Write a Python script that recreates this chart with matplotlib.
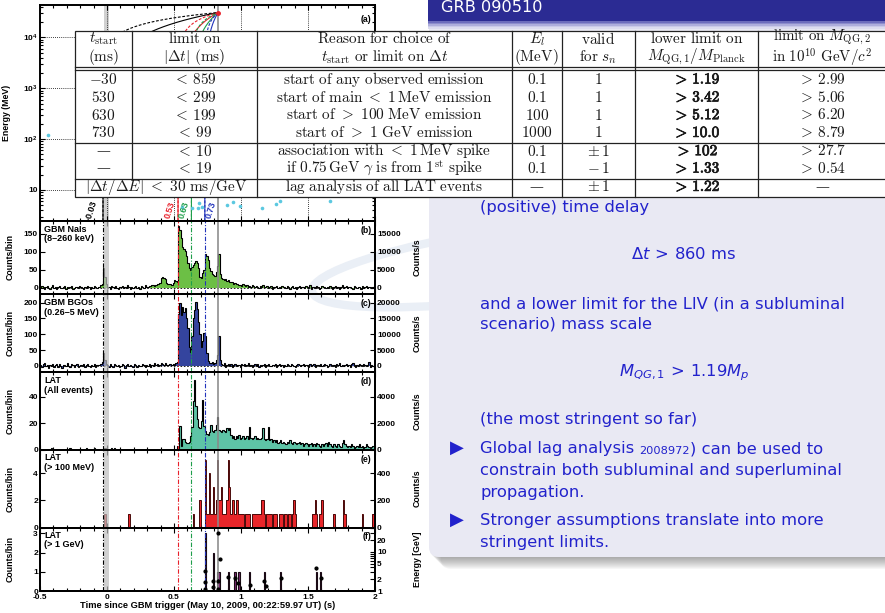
import matplotlib
matplotlib.use('Agg')
import matplotlib.pyplot as plt
import matplotlib.patheffects as pe
import numpy as np
from matplotlib.patches import Rectangle, FancyBboxPatch, Arc
from matplotlib.ticker import MultipleLocator, LogLocator, NullFormatter

# ---------------------------------------------------------------- data
# light curves in 10 ms bins starting at t = -0.50 s (250 bins, 25 per row)
nai_counts = [
    3, 6, 2, -2, 4, 5, 1, -3, 2, 7, 0, 3, -4, 2, 5, 1, -1, 4, 6, -2, 3, 0, 2, 5, -3,
    1, 4, 2, -1, 6, 3, 0, -2, 4, 1, 5, 2, -3, 3, 0, 6, 2, -1, 4, 3, 8, 12, 55, 30, 12,
    4, 2, -2, 5, 3, 0, 6, 1, -3, 4, 2, 5, -1, 3, 0, 7, 2, -2, 4, 1, 3, 6, 0, 2, -3,
    5, 4, 1, 8, 3, 2, 6, 5, 9, 7, 6, 8, 10, 12, 15, 28, 30, 28, 25, 15, 12, 10, 12, 8, 14,
    22, 20, 18, 172, 160, 138, 115, 108, 103, 90, 70, 55, 50, 58, 65, 70, 75, 68, 55, 30, 28, 42, 50, 95, 88,
    78, 55, 48, 40, 35, 32, 45, 60, 95, 40, 28, 25, 22, 24, 20, 22, 18, 16, 18, 12, 14, 10, 12, 8, 9,
    6, 10, 7, 5, 8, 4, 6, 3, 7, 5, 2, 6, 4, 1, 5, 3, 7, 2, 4, 6, 0, 3, 5, -2, 4,
    2, 6, 1, 3, -1, 5, 2, 4, 0, 6, 3, -3, 2, 5, 1, 4, -2, 3, 6, 0, 2, 4, -1, 5, 3,
    1, 7, -2, 2, 4, 0, 5, 3, -3, 1, 6, 2, 4, -1, 3, 0, 5, 2, -4, 3, 6, 1, 2, -2, 4,
    7, 0, 3, 5, -1, 2, 4, 1, -3, 6, 2, 0, 4, 3, -2, 5, 1, 3, 6, -1, 2, 4, 0, 3, 5,
]
bgo_counts = [
    2, -4, 5, 8, -1, 3, -6, 4, 0, 7, -3, 2, 5, -2, 6, 1, -5, 3, 4, -1, 8, 0, -3, 5, 2,
    -2, 4, 6, -4, 1, 3, -1, 5, -3, 2, 7, 0, -2, 4, 1, 6, -4, 3, 2, 2, 5, 14, 42, 20, 6,
    3, -2, 5, 1, -4, 6, 2, -1, 4, -3, 0, 5, 3, -5, 2, 7, -1, 4, 0, -3, 6, 2, -2, 3, 1,
    -1, 5, 2, -3, 4, 0, 6, -2, 3, 1, 8, 2, 5, -1, 4, 9, 6, 3, 10, 4, 2, 7, 5, 3, 6,
    4, 8, 12, 165, 200, 160, 185, 170, 182, 150, 120, 60, 45, 95, 150, 175, 202, 180, 140, 100, 60, 80, 105, 95, 40,
    15, 10, 8, 12, 5, 10, 18, 35, 95, 20, 5, 3, 8, -2, 4, 6, 1, 5, -3, 2, 7, 0, 4, 3, -2,
    5, 2, 6, -1, 3, 8, 0, 4, -4, 2, 5, 1, 6, -2, 3, 0, 4, 7, -3, 2, 5, 1, -1, 4, 3,
    6, -2, 2, 5, 0, 3, -4, 4, 1, 7, 2, -1, 5, 3, 0, -3, 4, 6, 2, -1, 3, 5, 0, 2, 4,
    -2, 6, 1, 3, 5, -3, 2, 4, 0, 7, -1, 3, 5, 2, -4, 1, 6, 3, 0, 4, -2, 5, 2, 8, 1,
    3, -1, 4, 6, 0, 2, -3, 5, 10, 3, -2, 4, 1, 6, 2, -1, 5, 3, 0, 4, 12, -2, 3, 1, 5,
]
lat_all = [
    0, 0, 0, 0, 0, 0, 0, 0, 1, 0, 0, 0, 0, 0, 0, 0, 0, 0, 0, 0, 0, 0, 1, 0, 0,
    0, 0, 0, 0, 0, 0, 0, 0, 0, 1, 0, 0, 0, 0, 0, 1, 0, 0, 0, 0, 0, 0, 0, 1, 0,
    0, 0, 0, 1, 0, 1, 0, 0, 0, 0, 0, 0, 0, 0, 0, 0, 0, 0, 0, 0, 0, 0, 0, 0, 0,
    0, 0, 0, 0, 0, 0, 0, 0, 0, 0, 0, 0, 0, 0, 0, 0, 0, 0, 0, 0, 0, 0, 0, 0, 0,
    0, 0, 3, 1, 18, 3, 8, 8, 6, 5, 5, 6, 10, 17, 37, 53, 33, 23, 17, 16, 22, 38, 18, 14, 12,
    11, 13, 19, 14, 13, 15, 19, 25, 15, 14, 13, 15, 14, 13, 16, 15, 16, 11, 9, 10, 8, 10, 9, 11, 8,
    9, 10, 8, 9, 10, 8, 17, 9, 8, 9, 10, 8, 9, 8, 8, 9, 16, 8, 7, 8, 17, 7, 8, 6, 7,
    6, 7, 5, 6, 7, 5, 6, 5, 4, 6, 5, 7, 5, 4, 6, 5, 4, 5, 6, 4, 5, 3, 4, 5, 4,
    3, 4, 5, 3, 4, 3, 5, 4, 3, 2, 4, 3, 4, 5, 3, 6, 4, 3, 2, 4, 3, 2, 4, 3, 2,
    5, 7, 4, 3, 2, 3, 2, 4, 3, 1, 2, 3, 2, 4, 2, 3, 1, 2, 4, 3, 2, 1, 2, 3, 2,
]
lat_100mev = [
    0, 0, 0, 0, 0, 0, 0, 0, 0, 0, 0, 0, 0, 0, 0, 0, 0, 0, 0, 0, 0, 0, 0, 0, 0,
    0, 0, 0, 0, 0, 0, 0, 0, 0, 0, 0, 0, 0, 0, 0, 0, 0, 0, 0, 0, 0, 0, 0, 1, 0,
    0, 0, 0, 0, 0, 0, 0, 0, 0, 0, 0, 0, 0, 0, 0, 0, 1, 0, 0, 0, 0, 0, 0, 0, 0,
    0, 0, 0, 0, 0, 0, 0, 0, 0, 0, 0, 0, 0, 0, 0, 0, 0, 0, 0, 0, 0, 0, 0, 0, 0,
    0, 0, 0, 0, 0, 0, 0, 0, 0, 0, 0, 0, 0, 0, 1, 0, 0, 0, 0, 2, 0, 0, 0, 5, 1,
    1, 4, 1, 1, 3, 1, 2, 5, 2, 2, 3, 1, 1, 1, 2, 5, 3, 1, 2, 2, 1, 2, 2, 1, 1,
    1, 1, 0, 1, 1, 1, 1, 0, 1, 1, 1, 1, 1, 1, 1, 2, 2, 1, 0, 1, 1, 1, 1, 0, 1,
    1, 1, 0, 1, 1, 1, 0, 1, 1, 0, 1, 1, 0, 1, 2, 1, 0, 0, 0, 0, 0, 0, 0, 0, 0,
    0, 0, 0, 1, 1, 2, 1, 0, 1, 1, 2, 0, 0, 0, 0, 0, 0, 0, 0, 1, 0, 0, 0, 0, 0,
    0, 2, 1, 0, 0, 0, 0, 0, 0, 0, 0, 0, 0, 0, 0, 1, 0, 0, 0, 0, 0, 0, 0, 1, 0,
]
lat_1gev = [
    0, 0, 0, 0, 0, 0, 0, 0, 0, 0, 0, 0, 0, 0, 0, 0, 0, 0, 0, 0, 0, 0, 0, 0, 0,
    0, 0, 0, 0, 0, 0, 0, 0, 0, 0, 0, 0, 0, 0, 0, 0, 0, 0, 0, 0, 0, 0, 0, 0, 0,
    0, 0, 0, 0, 0, 0, 0, 0, 0, 0, 0, 0, 0, 0, 0, 0, 0, 0, 0, 0, 0, 0, 0, 0, 0,
    0, 0, 0, 0, 0, 0, 0, 0, 0, 0, 0, 0, 0, 0, 0, 0, 0, 0, 0, 0, 0, 0, 0, 0, 0,
    0, 0, 0, 0, 0, 0, 0, 0, 0, 0, 0, 0, 0, 0, 0, 0, 0, 0, 0, 0, 0, 0, 0, 3, 0,
    0, 0, 0, 0, 2, 0, 0, 1, 1, 0, 0, 0, 0, 0, 0, 1, 0, 0, 0, 0, 1, 0, 0, 1, 0,
    0, 0, 0, 0, 0, 0, 1, 0, 0, 0, 0, 0, 0, 0, 0, 0, 0, 1, 0, 0, 0, 0, 0, 0, 0,
    0, 0, 0, 0, 1, 0, 0, 0, 0, 0, 0, 0, 0, 0, 0, 0, 0, 0, 0, 0, 0, 0, 0, 0, 0,
    0, 0, 0, 0, 0, 0, 1, 0, 0, 1, 0, 0, 0, 0, 0, 0, 0, 0, 0, 0, 0, 0, 0, 0, 0,
    0, 0, 0, 0, 0, 0, 0, 0, 0, 0, 0, 0, 0, 0, 0, 0, 0, 0, 0, 0, 0, 0, 0, 0, 0,
]

# >1 GeV photons (panel f, right axis)
gev_time = [0.731, 0.731, 0.731, 0.793, 0.793, 0.829, 0.843, 0.826, 0.826,
            0.905, 0.955, 0.980, 1.067, 1.174, 1.184, 1.299, 1.560, 1.597]
gev_energy = [3.3, 1.7, 1.15, 1.75, 1.3, 31.0, 6.5, 1.85, 1.1,
              2.25, 2.1, 1.6, 1.4, 1.85, 1.35, 2.1, 3.8, 2.1]

# photons visible in panel (a), energy in MeV
a_time = [-0.44, 0.560, 0.634, 0.679, 0.687, 0.709, 0.896, 0.940, 0.993, 1.157, 1.261, 1.291, 1.664]
a_energy = [121, 4.6, 4.4, 4.4, 5.5, 4.6, 5.1, 5.8, 4.8, 4.4, 5.3, 6.1, 6.1]

# start times used for the dispersion curves
t_start = [-0.03, 0.53, 0.63, 0.73]
t_start_labels = ['-0.03', '0.53', '0.63', '0.73']
t_start_colors = ['black', '#e8202a', '#1f9e4a', '#2233bb']
t_max, e_max = 0.829, 31000.0

# table
table_header = [
    [r'$t_{\mathrm{start}}$', r'$\mathrm{(ms)}$'],
    [r'$\mathrm{limit\ on}$', r'$|\Delta t|\ \mathrm{(ms)}$'],
    [r'$\mathrm{Reason\ for\ choice\ of}$', r'$t_{\mathrm{start}}\ \mathrm{or\ limit\ on}\ \Delta t$'],
    [r'$E_l$', r'$\mathrm{(MeV)}$'],
    [r'$\mathrm{valid}$', r'$\mathrm{for}\ s_n$'],
    [r'$\mathrm{lower\ limit\ on}$', r'$M_{\mathrm{QG},1}/M_{\mathrm{Planck}}$'],
    [r'$\mathrm{limit\ on}\ M_{\mathrm{QG},2}$', r'$\mathrm{in}\ 10^{10}\ \mathrm{GeV}/c^2$'],
]
col_tstart = [r'$-30$', r'$530$', r'$630$', r'$730$', '—', '—']
col_dt = [r'$<\,859$', r'$<\,299$', r'$<\,199$', r'$<\,99$', r'$<\,10$', r'$<\,19$']
col_reason = [
    r'$\mathrm{start\ of\ any\ observed\ emission}$',
    r'$\mathrm{start\ of\ main}\ <\ 1\,\mathrm{MeV\ emission}$',
    r'$\mathrm{start\ of}\ >\ 100\ \mathrm{MeV\ emission}$',
    r'$\mathrm{start\ of}\ >\ 1\ \mathrm{GeV\ emission}$',
    r'$\mathrm{association\ with}\ <\ 1\,\mathrm{MeV\ spike}$',
    r'$\mathrm{if}\ 0.75\,\mathrm{GeV}\ \gamma\ \mathrm{is\ from}\ 1^{\mathrm{st}}\ \mathrm{spike}$',
    r'$\mathrm{lag\ analysis\ of\ all\ LAT\ events}$',
]
col_el = [r'$0.1$', r'$0.1$', r'$100$', r'$1000$', r'$0.1$', r'$0.1$', '—']
col_sn = [r'$1$', r'$1$', r'$1$', r'$1$', r'$\pm\,1$', r'$-\,1$', r'$\pm\,1$']
col_mqg1 = ['1.19', '3.42', '5.12', '10.0', '102', '1.33', '1.22']
col_mqg2 = [r'$>\,2.99$', r'$>\,5.06$', r'$>\,6.20$', r'$>\,8.79$', r'$>\,27.7$', r'$>\,0.54$', '—']
lag_row = r'$|\Delta t/\Delta E|\ <\ 30\ \mathrm{ms/GeV}$'

# ---------------------------------------------------------------- style
W, H = 885, 613
plt.rcParams['font.family'] = ['Liberation Sans', 'DejaVu Sans']
plt.rcParams['axes.unicode_minus'] = False
plt.rcParams['mathtext.fontset'] = 'custom'
plt.rcParams['mathtext.rm'] = 'Liberation Sans:bold'
plt.rcParams['mathtext.it'] = 'Liberation Sans:bold:italic'
plt.rcParams['mathtext.bf'] = 'Liberation Sans:bold'

NAI_C, BGO_C, LAT_C, HE_C, GEV_C = '#6cbf45', '#34449e', '#5ec4a6', '#e8262a', '#7b2a72'
SLIDE_BLUE = '#2222cc'
TICK_FS, LABEL_FS = 6.0, 6.3
B = 'bold'

t_edges = np.linspace(-0.5, 2.0, 251)


def px_box(x0, y0, x1, y1):
    return [x0 / W, 1 - y1 / H, (x1 - x0) / W, (y1 - y0) / H]


fig = plt.figure(figsize=(W / 100, H / 100), dpi=100)

# ---------------------------------------------------------------- slide background
bg = fig.add_axes([0, 0, 1, 1], zorder=0)
bg.set_xlim(0, W)
bg.set_ylim(H, 0)
bg.axis('off')
# faint logo swooshes
bg.add_patch(Arc((520, 262), 420, 70, angle=-8, theta1=90, theta2=260, color='#eaeff6', lw=6, zorder=0.2))
bg.add_patch(Arc((420, 640), 330, 560, angle=0, theta1=100, theta2=165, color='#edf1f7', lw=8, zorder=0.2))

for off in range(1, 13):
    bg.add_patch(FancyBboxPatch((429 + off, 10 + off), 480, 547, boxstyle='round,pad=0,rounding_size=10',
                                fc='#444444', ec='none', alpha=0.045, zorder=0.8))
bg.add_patch(FancyBboxPatch((429, 10), 480, 547, boxstyle='round,pad=0,rounding_size=10',
                            fc='#e9e9f3', ec='none', zorder=1))
bg.add_patch(Rectangle((428, 0), 460, 21, fc='#2b2b93', ec='none', zorder=1.2))
for k, c in enumerate(['#6c6cbc', '#8c8ccc', '#aeaedc', '#cacae8', '#dcdcef']):
    bg.add_patch(Rectangle((428, 21 + 1.5 * k), 460, 1.5, fc=c, ec='none', zorder=1.2))
bg.text(441, 12.3, 'GRB 090510', color='white', fontsize=11.6, family='DejaVu Sans', va='baseline', zorder=2)

txt = dict(color=SLIDE_BLUE, fontsize=11.8, family='DejaVu Sans', va='baseline', zorder=2)
bg.text(480, 211.7, '(positive) time delay', **txt)
bg.text(684, 259.3, r'$\Delta t\,>\,860\ \mathrm{ms}$', ha='center', math_fontfamily='dejavusans', **txt)
bg.text(480, 308.3, 'and a lower limit for the LIV (in a subluminal', **txt)
bg.text(480, 328.3, 'scenario) mass scale', **txt)
bg.text(684, 376, r'$M_{QG,1}\,>\,1.19M_p$', ha='center', math_fontfamily='dejavusans', **txt)
bg.text(480, 424.3, '(the most stringent so far)', **txt)
for yb in [453.3, 525]:
    bg.text(450, yb - 0.5, '▶', color=SLIDE_BLUE, fontsize=13, family='DejaVu Sans', va='baseline', zorder=2)
t1 = bg.text(480, 453.3, 'Global lag analysis ', **txt)
t2 = bg.annotate('2008972', xy=(1, 0), xycoords=t1, va='bottom', color=SLIDE_BLUE, fontsize=8.2,
                 family='DejaVu Sans', zorder=2)
bg.annotate(') can be used to', xy=(1, 0), xycoords=t2, va='bottom', color=SLIDE_BLUE, fontsize=11.8,
            family='DejaVu Sans', zorder=2)
bg.text(480, 475, 'constrain both subluminal and superluminal', **txt)
bg.text(480, 496.7, 'propagation.', **txt)
bg.text(480, 525, 'Stronger assumptions translate into more', **txt)
bg.text(480, 546.7, 'stringent limits.', **txt)

# ---------------------------------------------------------------- light-curve panels
ax_a = fig.add_axes(px_box(40, 5, 375, 221), zorder=2)
ax_b = fig.add_axes(px_box(40, 221, 375, 294), zorder=2)
ax_c = fig.add_axes(px_box(40, 294, 375, 372), zorder=2)
ax_d = fig.add_axes(px_box(40, 372, 375, 449.5), zorder=2)
ax_e = fig.add_axes(px_box(40, 449.5, 375, 527.5), zorder=2)
ax_f = fig.add_axes(px_box(40, 527.5, 375, 591), zorder=2)
all_axes = [ax_a, ax_b, ax_c, ax_d, ax_e, ax_f]


def style(ax, right=True):
    ax.set_facecolor('none')
    ax.set_xlim(-0.5, 2.0)
    ax.xaxis.set_major_locator(MultipleLocator(0.5))
    ax.xaxis.set_minor_locator(MultipleLocator(0.1))
    ax.tick_params(which='both', direction='in', top=True, right=right, labelsize=TICK_FS,
                   width=0.8, pad=1.5)
    ax.tick_params(which='major', length=3.5)
    ax.tick_params(which='minor', length=2)
    for s in ax.spines.values():
        s.set_linewidth(1.4)
    ax.yaxis.set_label_coords(-0.075, 0.5)


def marks(ax):
    ax.axvspan(-0.025, 0.015, color='#bdbdbd', alpha=0.7, lw=0, zorder=4)
    ax.axvspan(0.82, 0.838, color='#8a8a8a', alpha=0.8, lw=0, zorder=4)
    for t, c in zip(t_start, t_start_colors):
        ax.axvline(t, color=c, ls=(0, (4, 1.5, 1, 1.5)), lw=0.8, zorder=5)


def twin(ax, ylim, ticks, label):
    ax2 = ax.twinx()
    ax2.set_zorder(3)
    ax2.set_ylim(ylim)
    ax2.set_yticks(ticks)
    ax2.tick_params(which='both', direction='in', labelsize=TICK_FS, width=0.8, length=3.5, pad=1.5)
    ax2.set_ylabel(label, fontsize=LABEL_FS, fontweight=B)
    ax2.yaxis.set_label_coords(1.113, 0.5)
    for s in ax2.spines.values():
        s.set_linewidth(1.4)
    all_axes.append(ax2)
    return ax2


def stairs(ax, counts, fc, ec='black', lw=0.8):
    ax.stairs(counts, t_edges, fill=True, color=fc, baseline=0, zorder=2)
    ax.stairs(counts, t_edges, color=ec, lw=lw, baseline=0, zorder=3)


def label(ax, name, tag):
    ax.text(0.012, 0.95, name, transform=ax.transAxes, va='top', ha='left', fontsize=6.5,
            linespacing=1.1, fontweight=B)
    ax.text(0.99, 0.93, tag, transform=ax.transAxes, va='top', ha='right', fontsize=6.3, fontweight=B)


# (a) energy vs time
style(ax_a)
ax_a.set_yscale('log')
ax_a.set_ylim(2.45, 43600)
ax_a.set_yticks([10, 100, 1000, 10000])
ax_a.set_yticklabels(['10', r'$\mathrm{10^{2}}$', r'$\mathrm{10^{3}}$', r'$\mathrm{10^{4}}$'])
ax_a.yaxis.set_minor_locator(LogLocator(subs=np.arange(2, 10)))
ax_a.yaxis.set_minor_formatter(NullFormatter())
ax_a.tick_params(labelbottom=False)
ax_a.grid(True, which='major', ls=(0, (1, 1.5)), color='black', lw=0.6)
ax_a.set_ylabel('Energy (MeV)', fontsize=LABEL_FS, fontweight=B)
ax_a.yaxis.set_label_coords(-0.087, 0.5)
ax_a.axvspan(-0.025, 0.015, color='#bdbdbd', alpha=0.7, lw=0, zorder=1)
ax_a.axvspan(0.82, 0.838, color='#8a8a8a', alpha=0.8, lw=0, zorder=1)
energy = np.logspace(np.log10(2.0), np.log10(e_max), 300)
for t0, c in zip(t_start, t_start_colors):
    ax_a.plot(t0 + (t_max - t0) * energy / e_max, energy, color=c, lw=0.8, zorder=3)
    ax_a.plot(t0 + (t_max - t0) * (energy / e_max) ** 2, energy, color=c, lw=0.8,
              ls=(0, (2.5, 1.5)), zorder=3)
ax_a.plot(a_time, a_energy, 'o', color='#5bc8e0', ms=2.6, mec='none', zorder=4)
ax_a.plot([t_max], [e_max], 'o', color='#e8202a', ms=2.5, zorder=5)
for x, s, c in zip([-0.115, 0.468, 0.573, 0.772], t_start_labels, t_start_colors):
    ax_a.text(x, 4.0, s, rotation=72, color=c, fontsize=6.4, fontweight=B, ha='center', va='center', zorder=6)
ax_a.text(0.99, 0.955, '(a)', transform=ax_a.transAxes, va='top', ha='right', fontsize=6.3, fontweight=B)

# (b) GBM NaI
style(ax_b, right=False)
stairs(ax_b, nai_counts, NAI_C)
ax_b.axhline(0, color='black', ls=(0, (2, 2)), lw=0.6, zorder=3)
ax_b.set_ylim(-16.7, 186)
ax_b.set_yticks([0, 50, 100, 150])
ax_b.tick_params(labelbottom=False)
ax_b.set_ylabel('Counts/bin', fontsize=LABEL_FS, fontweight=B)
marks(ax_b)
label(ax_b, 'GBM NaIs\n(8–260 keV)', '(b)')
twin(ax_b, (-1670, 18600), [0, 5000, 10000, 15000], 'Counts/s')

# (c) GBM BGO
style(ax_c, right=False)
stairs(ax_c, bgo_counts, BGO_C)
ax_c.axhline(0, color='black', ls=(0, (2, 2)), lw=0.6, zorder=3)
ax_c.set_ylim(-19, 227)
ax_c.set_yticks([0, 50, 100, 150, 200])
ax_c.tick_params(labelbottom=False)
ax_c.set_ylabel('Counts/bin', fontsize=LABEL_FS, fontweight=B)
marks(ax_c)
label(ax_c, 'GBM BGOs\n(0.26–5 MeV)', '(c)')
twin(ax_c, (-1900, 22700), [0, 5000, 10000, 15000, 20000], 'Counts/s')

# (d) LAT all events
style(ax_d, right=False)
stairs(ax_d, lat_all, LAT_C)
ax_d.set_ylim(0, 59)
ax_d.set_yticks([0, 20, 40])
ax_d.tick_params(labelbottom=False)
ax_d.set_ylabel('Counts/bin', fontsize=LABEL_FS, fontweight=B)
marks(ax_d)
label(ax_d, 'LAT\n(All events)', '(d)')
twin(ax_d, (0, 5900), [0, 2000, 4000], 'Counts/s')

# (e) LAT > 100 MeV
style(ax_e, right=False)
stairs(ax_e, lat_100mev, HE_C, ec='#4a0a0a', lw=0.7)
ax_e.set_ylim(0, 5.75)
ax_e.set_yticks([0, 2, 4])
ax_e.tick_params(labelbottom=False)
ax_e.set_ylabel('Counts/bin', fontsize=LABEL_FS, fontweight=B)
marks(ax_e)
label(ax_e, 'LAT\n(> 100 MeV)', '(e)')
twin(ax_e, (0, 575), [0, 200, 400], 'Counts/s')

# (f) LAT > 1 GeV
style(ax_f, right=False)
stairs(ax_f, lat_1gev, GEV_C, ec='#1a0a14', lw=0.8)
ax_f.set_ylim(0, 3.3)
ax_f.set_yticks([0, 1, 2, 3])
ax_f.set_ylabel('Counts/bin', fontsize=LABEL_FS, fontweight=B)
ax_f.set_xticks([-0.5, 0, 0.5, 1, 1.5, 2])
ax_f.set_xticklabels(['-0.5', '0', '0.5', '1', '1.5', '2'])
ax_f.tick_params(axis='x', pad=2.2)
ax_f.set_xlabel('Time since GBM trigger (May 10, 2009, 00:22:59.97 UT) (s)', fontsize=6.7,
                fontweight=B, labelpad=0.3)
marks(ax_f)
label(ax_f, 'LAT\n(> 1 GeV)', '(f)')
ax_f2 = twin(ax_f, (1, 42), [], 'Energy [GeV]')
ax_f2.set_yscale('log')
ax_f2.set_ylim(1, 42)
ax_f2.set_yticks([1, 2, 5, 10, 20])
ax_f2.set_yticklabels(['1', '2', '5', '10', '20'])
ax_f2.yaxis.set_minor_formatter(NullFormatter())
ax_f2.errorbar(gev_time, gev_energy, yerr=np.array(gev_energy) * 0.07, fmt='o', color='black',
               ms=2.0, elinewidth=0.5, capsize=0, zorder=6)

# ---------------------------------------------------------------- table overlay
tb = fig.add_axes([0, 0, 1, 1], zorder=10)
tb.set_xlim(0, W)
tb.set_ylim(H, 0)
tb.axis('off')
top, bot, x_left, x_right = 30.7, 197.3, 75, 900
tb.add_patch(Rectangle((x_left, top), x_right - x_left, bot - top, fc='white', ec='#222222', lw=0.9))
col_x = [75, 132.3, 256.7, 511.7, 561.7, 635, 758.3, 885]
line = dict(color='#222222', lw=0.9)
tb.plot([132.3, 132.3], [top, 179.0], **line)
for x in col_x[2:-1]:
    tb.plot([x, x], [top, bot], **line)
for y in [66.7, 70.0, 142.7, 179.0]:
    tb.plot([x_left, x_right], [y, y], **line)
centers = [(col_x[i] + col_x[i + 1]) / 2 for i in range(7)]
centers[6] = 822
cell = dict(ha='center', va='center', fontsize=11, math_fontfamily='cm', color='#1a1a1a')
dash = dict(ha='center', va='center', fontsize=10, family='DejaVu Serif', color='#1a1a1a')
for k, (cx, (l1, l2)) in enumerate(zip(centers, table_header)):
    if k == 6:
        # last header: sub/superscripts, so both lines go into one text block
        tb.text(cx, 48.3, l1 + '\n' + l2, ha='center', va='center', fontsize=10.8, linespacing=1.0,
                math_fontfamily='cm', color='#1a1a1a')
    else:
        tb.text(cx, 38.8, l1, **cell)
        tb.text(cx, 57.2, l2, **cell)
row_y = [79.3, 97.3, 115.0, 132.7, 151.0, 168.3, 186.7]
bold_fx = [pe.withStroke(linewidth=0.55, foreground='#1a1a1a')]
for k, y in enumerate(row_y):
    cols = [col_reason[k], col_el[k], col_sn[k], col_mqg2[k]]
    for cx, s in zip([centers[2], centers[3], centers[4], centers[6]], cols):
        tb.text(cx, y, s, **(dash if s == '—' else cell))
    # lower limit on M_QG,1 printed in bold
    tb.text(centers[5], y, r'$>\,\mathbf{' + col_mqg1[k] + '}$', path_effects=bold_fx, **cell)
    if k < 6:
        s = col_tstart[k]
        tb.text(centers[0], y, s, **(dash if s == '—' else cell))
        tb.text(centers[1], y, col_dt[k], **cell)
tb.text((75 + 256.7) / 2, row_y[6], lag_row, **cell)

# bold tick labels on the light-curve panels
fig.canvas.draw()
for ax in all_axes:
    for lbl in ax.get_xticklabels() + ax.get_yticklabels():
        lbl.set_fontweight(B)

fig.savefig('out.png', dpi=100)
